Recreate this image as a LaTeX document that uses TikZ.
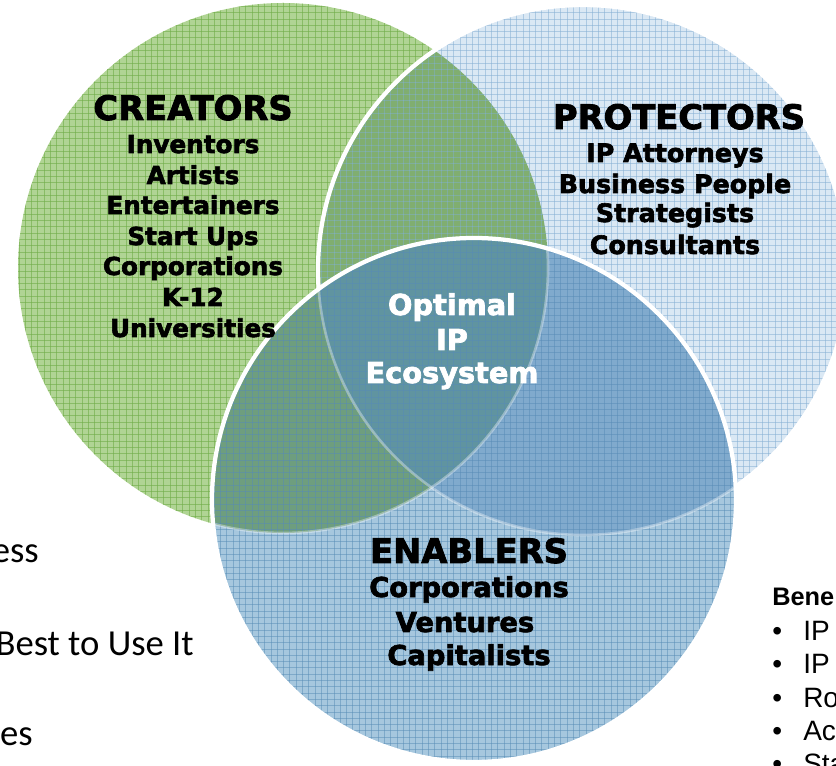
\documentclass[tikz,border=0pt]{standalone}
\usepackage{fontspec}
\newfontfamily\hd{DejaVu Sans Bold}[FakeBold=2.5]
\newfontfamily\carl{Carlito}
\newfontfamily\arl{Liberation Sans}
\definecolor{gA}{RGB}{176,212,148}
\definecolor{gLine}{RGB}{112,172,72}
\definecolor{pA}{RGB}{218,232,244}
\definecolor{pLine}{RGB}{135,176,212}
\definecolor{gpA}{RGB}{128,174,112}
\definecolor{eA}{RGB}{166,199,222}
\definecolor{eLine}{RGB}{88,140,182}
\definecolor{egA}{RGB}{110,158,126}
\definecolor{epA}{RGB}{128,170,205}
\definecolor{cA}{RGB}{96,148,160}
\newcommand\mygrid[1]{%
  \foreach \gx in {0,6.3,...,840}{\draw[#1] (\gx,0) -- (\gx,770);}%
  \foreach \gy in {0,6.3,...,770}{\draw[#1] (0,\gy) -- (840,\gy);}}
\tikzset{
  hdr/.style={font=\hd\fontsize{25.3}{28}\selectfont, anchor=base, inner sep=0pt},
  itmC/.style={font=\hd\fontsize{18.5}{21}\selectfont, anchor=base, inner sep=0pt},
  itmP/.style={font=\hd\fontsize{19}{22}\selectfont, anchor=base, inner sep=0pt},
  itmE/.style={font=\hd\fontsize{20.5}{24}\selectfont, anchor=base, inner sep=0pt},
  ctr/.style={font=\hd\fontsize{21.6}{24}\selectfont, anchor=base, inner sep=0pt, text=white},
  side/.style={font=\carl\fontsize{27.5}{32}\selectfont, anchor=base east, inner sep=0pt},
  bhd/.style={font=\arl\bfseries\fontsize{19}{22}\selectfont, anchor=base west, inner sep=0pt},
  btx/.style={font=\arl\fontsize{21}{24}\selectfont, anchor=base west, inner sep=0pt},
  border/.style={draw=white, line width=3.2pt},
  faint/.style={draw=white, line width=2pt, draw opacity=0.35},
}
\begin{document}
\begin{tikzpicture}[x=0.75pt,y=-0.75pt]
\useasboundingbox (0,0) rectangle (836,766);
\coordinate (cG) at (283,268);
\coordinate (cP) at (583,270);
\coordinate (cE) at (474,500);
% creators and protectors
\fill[gA] (cG) circle (265);
\fill[pA] (cP) circle (265);
\begin{scope}
  \clip (cG) circle (265);
  \fill[gpA] (cP) circle (265);
\end{scope}
\begin{scope}
  \clip (cG) circle (265);
  \mygrid{gLine, line width=0.55pt, opacity=0.6}
\end{scope}
\begin{scope}
  \clip (cP) circle (265);
  \mygrid{pLine, line width=0.55pt, opacity=0.55}
\end{scope}
\draw[border] (cP) circle (265);
% enablers
\fill[eA] (cE) circle (262);
\begin{scope}
  \clip (cE) circle (262);
  \fill[egA] (cG) circle (265);
  \fill[epA] (cP) circle (265);
  \begin{scope}
    \clip (cG) circle (265);
    \fill[cA] (cP) circle (265);
  \end{scope}
  \mygrid{eLine, line width=0.55pt, opacity=0.5}
  \draw[faint] (cG) circle (265);
  \draw[faint] (cP) circle (265);
\end{scope}
\draw[border] (cE) circle (262);
% creators text
\node[hdr] (crh) at (193,120) {CREATORS};
\node[itmC] (cr1) at (193,153) {Inventors};
\node[itmC] (cr2) at (193,184) {Artists};
\node[itmC] (cr3) at (193,214) {Entertainers};
\node[itmC] (cr4) at (193,245) {Start Ups};
\node[itmC] (cr5) at (193,275) {Corporations};
\node[itmC] (cr6) at (193,306) {K-12};
\node[itmC] (cr7) at (193,337) {Universities};
% protectors text
\node[hdr] (prh) at (679,129) {PROTECTORS};
\node[itmP] (pr1) at (675,162) {IP Attorneys};
\node[itmP] (pr2) at (675,193) {Business People};
\node[itmP] (pr3) at (675,222) {Strategists};
\node[itmP] (pr4) at (675,254) {Consultants};
% center text
\node[ctr] (ct1) at (452,315) {Optimal};
\node[ctr] (ct2) at (452,350) {IP};
\node[ctr] (ct3) at (452,383) {Ecosystem};
% enablers text
\node[hdr] (enh) at (469,563) {ENABLERS};
\node[itmE] (en1) at (469,597) {Corporations};
\node[itmE] (en2) at (465,632) {Ventures};
\node[itmE] (en3) at (469,665) {Capitalists};
% left side text (cut by the frame)
\node[side] (sl1) at (39,563) {ess};
\node[side] (sl2) at (194,655) {Best to Use It};
\node[side] (sl3) at (33,745) {es};
% right side text (cut by the frame)
\node[bhd] (bh) at (772,605) {Bene};
\node[btx] (bb1) at (772,640) {•};
\node[btx] (bt1) at (803,640) {IP};
\node[btx] (bb2) at (772,673) {•};
\node[btx] (bt2) at (803,673) {IP};
\node[btx] (bb3) at (772,707) {•};
\node[btx] (bt3) at (803,707) {Ro};
\node[btx] (bb4) at (772,740) {•};
\node[btx] (bt4) at (803,740) {Ac};
\node[btx] (bb5) at (772,773) {•};
\node[btx] (bt5) at (803,773) {Sta};
\end{tikzpicture}
\end{document}
